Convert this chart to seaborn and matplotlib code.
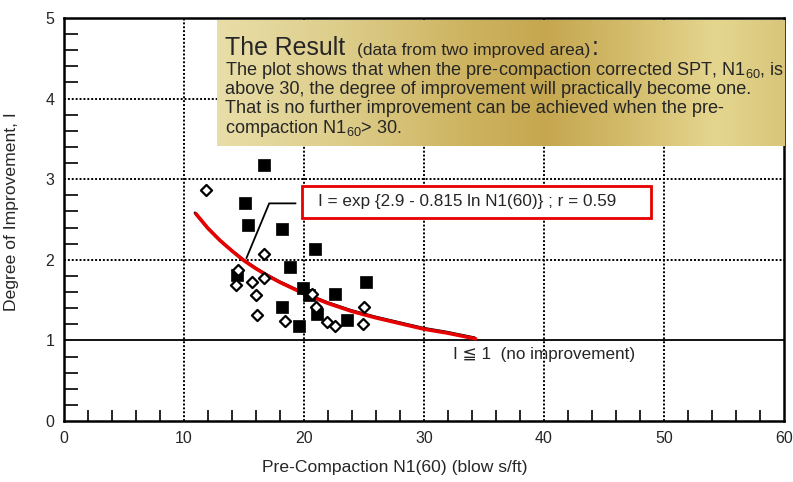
import numpy as np
import pandas as pd
import matplotlib
matplotlib.use("Agg")
import matplotlib.pyplot as plt
import matplotlib.transforms as mtransforms
from matplotlib.colors import LinearSegmentedColormap
from matplotlib.patches import Rectangle
import seaborn as sns

# ---- data ----
area_a_n = [16.7, 15.1, 15.3, 18.2, 20.9, 18.8, 25.2, 19.9, 22.6, 20.4, 18.2, 21.1, 23.6, 19.6, 14.4]
area_a_i = [3.18, 2.71, 2.43, 2.38, 2.13, 1.91, 1.73, 1.65, 1.58, 1.56, 1.42, 1.33, 1.25, 1.18, 1.81]
area_b_n = [11.8, 16.7, 14.5, 16.7, 15.7, 14.3, 16.0, 20.7, 21.0, 25.0, 16.1, 18.4, 21.9, 22.6, 24.9]
area_b_i = [2.87, 2.07, 1.87, 1.77, 1.72, 1.69, 1.56, 1.57, 1.42, 1.42, 1.32, 1.24, 1.23, 1.18, 1.20]
fit_n = [11.0, 12.0, 13.0, 14.0, 15.0, 16.0, 17.0, 18.0, 19.0, 20.0, 22.0, 24.0, 26.0, 28.0, 30.0, 32.0, 34.3]
fit_i = [2.57, 2.39, 2.24, 2.11, 1.99, 1.89, 1.80, 1.72, 1.65, 1.58, 1.46, 1.36, 1.28, 1.21, 1.14, 1.09, 1.02]
leader_n = [15.2, 17.1, 19.3]
leader_i = [2.02, 2.70, 2.70]
x_ticks = [0, 10, 20, 30, 40, 50, 60]
y_ticks = [0, 1, 2, 3, 4, 5]
x_label = "Pre-Compaction N1(60) (blow s/ft)"
y_label = "Degree of Improvement, I"
eq_text = "I = exp {2.9 - 0.815 ln N1(60)} ; r = 0.59"
no_imp_text = "I \u2266 1  (no improvement)"

sns.set_style("ticks")
plt.rcParams["font.family"] = ["Liberation Sans", "DejaVu Sans"]
plt.rcParams["mathtext.fontset"] = "custom"
plt.rcParams["mathtext.rm"] = "Liberation Sans"
plt.rcParams["mathtext.it"] = "Liberation Sans"

W, H = 793, 482
fig = plt.figure(figsize=(W / 100, H / 100), dpi=100)
L, R, T, B = 64, 784, 18, 421
ax = fig.add_axes([L / W, (H - B) / H, (R - L) / W, (B - T) / H])

pts = pd.DataFrame({
    "N": area_a_n + area_b_n,
    "I": area_a_i + area_b_i,
    "area": ["A"] * len(area_a_n) + ["B"] * len(area_b_n),
})

# grid
for gx in [10, 20, 30, 40, 50]:
    ax.axvline(gx, color="black", lw=1.4, ls=(0, (1, 1)), zorder=1)
for gy in [2, 3, 4]:
    ax.axhline(gy, color="black", lw=1.4, ls=(0, (1, 1)), zorder=1)
ax.axhline(1, color="black", lw=1.3, zorder=1)

# fitted curve (original black curve slightly offset, red over it)
sns.lineplot(x=fit_n, y=fit_i, ax=ax, color="black", lw=2.0, zorder=3, sort=False)
blk = ax.lines[-1]
blk.set_transform(ax.transData + mtransforms.ScaledTranslation(-1.0 / 100, 1.0 / 100, fig.dpi_scale_trans))
sns.lineplot(x=fit_n, y=fit_i, ax=ax, color="#e60000", lw=2.6, zorder=4, sort=False)
sns.lineplot(x=leader_n, y=leader_i, ax=ax, color="black", lw=1.3, zorder=3, sort=False)

sns.scatterplot(data=pts[pts.area == "A"], x="N", y="I", ax=ax, marker="s",
                color="black", s=85, edgecolor="black", linewidth=0.5, zorder=5, legend=False)
sns.scatterplot(data=pts[pts.area == "B"], x="N", y="I", ax=ax, marker="D",
                facecolor="white", edgecolor="black", s=32, linewidth=1.6, zorder=6, legend=False)

ax.set_xlim(0, 60)
ax.set_ylim(0, 5)
ax.set_xticks(x_ticks)
ax.set_yticks(y_ticks)
ax.set_xticks(np.arange(0, 61, 2), minor=True)
ax.set_yticks(np.arange(0, 5.01, 0.2), minor=True)
ax.tick_params(which="major", length=0, labelsize=11.5, pad=7)
ax.tick_params(axis="x", which="minor", direction="in", length=8, width=1.4)
ax.tick_params(axis="y", which="minor", direction="in", length=10, width=1.4)
for sp in ax.spines.values():
    sp.set_visible(True)
    sp.set_linewidth(1.8)
    sp.set_color("black")
ax.set_xlabel(x_label, fontsize=12.6)
ax.xaxis.set_label_coords((395 - L) / (R - L), -0.097)
ax.set_ylabel(y_label, fontsize=12.6)
ax.yaxis.set_label_coords(-0.063, (B - 212) / (B - T))

# equation box
ax.add_patch(Rectangle((19.83, 2.52), 48.9 - 19.83, 0.40, facecolor="white",
                       edgecolor="#e60000", lw=2, zorder=7))
ax.text(21.2, 2.72, eq_text, fontsize=12.3, va="center", ha="left", zorder=8)
ax.text(32.4, 0.82, no_imp_text, fontsize=12.3, va="center", ha="left", zorder=8)

# golden text box
bx0, bx1, by0, by1 = 217, 785, 20, 146
gax = fig.add_axes([bx0 / W, (H - by1) / H, (bx1 - bx0) / W, (by1 - by0) / H], zorder=10)
cmap = LinearSegmentedColormap.from_list("gold", [
    (0.0, "#e9dea8"), (0.22, "#ddcd8a"), (0.45, "#cdb25e"), (0.58, "#c6a750"),
    (0.72, "#d3bb6a"), (0.88, "#e5d68f"), (1.0, "#d8c67a")])
grad = np.linspace(0, 1, 256)[None, :]
gax.imshow(grad, aspect="auto", cmap=cmap, extent=[0, 1, 0, 1])
gax.set_axis_off()

def fx(px):
    return px / W

def fy(py):
    return 1 - py / H

fig.text(fx(225), fy(55), "The Result", fontsize=17.9, zorder=11, va="baseline")
fig.text(fx(357), fy(55), "(data from two improved area)", fontsize=12.5, zorder=11, va="baseline")
fig.text(fx(592), fy(55), ":", fontsize=17.9, zorder=11, va="baseline")
body = [
    (75, "The plot shows that when the pre-compaction corrected SPT, N1$_{60}$, is"),
    (94, "above 30, the degree of improvement will practically become one."),
    (113, "That is no further improvement can be achieved when the pre-"),
    (133, "compaction N1$_{60}$> 30."),
]
for py, s in body:
    fig.text(fx(225), fy(py), s, fontsize=13.1, zorder=11, va="baseline")

fig.savefig("out.png", dpi=100)
